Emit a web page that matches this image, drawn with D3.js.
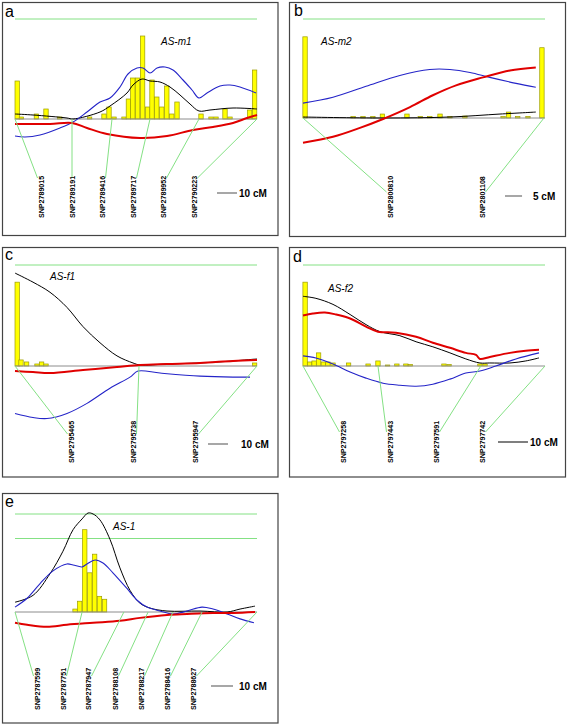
<!DOCTYPE html>
<html><head><meta charset="utf-8">
<script src="https://cdn.jsdelivr.net/npm/d3@7/dist/d3.min.js"></script>
<style>body{margin:0;background:#fff}svg{display:block}</style>
</head><body>
<svg id="chart" width="567" height="725"></svg>
<script>
// ---------------- DATA (positions in cM, scores in % of threshold) ----------------
// Panel a : AS-m1
const aSnpNames = ["SNP2789015","SNP2789191","SNP2789416","SNP2789717","SNP2789952","SNP2790223"];
const aSnpPos   = [0, 28.5, 48.5, 67.5, 92, 121];
const aBars  = [[1.1,38],[3.2,2],[10.7,5],[15.5,10],[22.4,2],[37.3,2],[44.5,5],[47,12],[49.5,2],[54.5,2],[56.7,20],[58.9,41],[61.3,41],[63.8,83],[66.3,12],[68.5,39],[70.9,22],[73.4,12],[75.9,33],[78.4,5],[81,17],[93,5],[98,2],[100.5,2],[105,10],[107.5,2],[117.3,9],[119.8,49]];
const aBlack = [[0,5],[9,4],[26,1],[29,0],[42.5,7],[47.5,13],[56,26],[59,34],[63.5,40],[67.5,38],[72.5,37],[77.5,32],[82.5,24],[87.5,15],[92,8],[97.5,9],[109,11],[121,10]];
const aBlue  = [[0,-17],[5,-18],[12.5,-16],[22.5,-9],[29,-3],[36,7],[42.5,17],[47.5,21],[52.5,32],[56.5,45],[61,51],[64,51],[67.5,46],[71,51],[75,52],[79,49],[84,39],[88.5,29],[92,21],[96,26],[102.5,33],[107.5,34],[112.5,32],[120.5,26]];
const aRed   = [[0,-5],[17.5,-5],[28.5,-4],[36,-9],[46,-15],[62.5,-19],[76,-17],[89,-11],[99,-8],[109,-4],[116,1],[121,4]];
const aThresholds = [100];

// Panel b : AS-m2
const bSnpNames = ["SNP2800810","SNP2801108"];
const bSnpPos   = [0, 70.7];
const bBars  = [[0.6,82],[14.7,1.5],[17.6,1.5],[20.5,1.5],[23.3,4],[30.5,4],[34.4,1.5],[37.2,1.5],[40.2,4],[43.1,1.5],[47.5,2],[58.7,1.5],[60.3,6],[63,1.5],[66,1.5],[70.1,71]];
const bBlack = [[0,1],[23.5,0],[43.1,1],[57.8,4],[68.3,6]];
const bBlue  = [[0,15],[8.8,21],[18.5,32],[28.4,43],[37.2,49],[43.1,49],[49,46],[54.8,41],[62.5,35],[68.3,31]];
const bRed   = [[0,-25],[8.8,-19],[16.7,-10],[23.5,-1],[31.4,11],[38.1,23],[44.9,33],[52.8,41],[60.7,48],[68.3,51]];
const bThresholds = [100];

// Panel c : AS-f1
const cSnpNames = ["SNP2795465","SNP2795738","SNP2795947"];
const cSnpPos   = [0, 62, 121];
const cBars  = [[1.1,83],[3,6],[5.8,4],[11,2],[13.3,4],[15.5,2],[119.8,3]];
const cBlack = [[0,92],[9,83],[17.5,73],[26,58],[34,39],[42.5,23],[51,10],[59,3],[62.5,1],[76,2],[92.5,3],[109,5],[121,7]];
const cBlue  = [[0,-47],[9,-51],[16,-52],[26,-47],[36,-37],[47.5,-22],[57.5,-11],[61.5,-5],[72.5,-7],[92.5,-10],[109,-11],[117.5,-11]];
const cRed   = [[0,-5],[9,-6],[17.5,-7],[34,-4],[51,-1],[62.5,1],[76,2],[92.5,3],[109,5],[121,6]];
const cThresholds = [100];

// Panel d : AS-f2
const dSnpNames = ["SNP2797258","SNP2797443","SNP2797591","SNP2797742"];
const dSnpPos   = [0, 25, 59.3, 80.7];
const dBars  = [[0.7,83],[2.2,4],[3.7,5],[5.2,13],[6.8,4],[8.3,4],[10,3],[15.2,3],[21.7,2],[25,5],[28.2,1],[31.3,2],[34.3,2],[35.8,1.5],[47,2],[48.7,1.5],[59,2],[60.7,2]];
const dBlack = [[0,69],[4.3,67],[10,61],[15.7,51],[21,41],[25.7,34],[32.3,30],[37.7,24],[43.3,19],[49,13],[54.3,7],[59,3],[62.3,3],[69,3],[74.3,5],[78.7,8]];
const dBlue  = [[0,10],[4.3,8],[10,2],[15.7,-6],[21,-12],[26.7,-17],[32.3,-19],[37.7,-20],[43.3,-18],[49,-13],[54.3,-7],[59,-5],[64.3,0],[71,7],[78.7,13]];
const dRed   = [[0,50],[3.3,52],[7.3,53],[11,51],[15.7,47],[21,39],[25,34],[31,33],[37.7,29],[43.3,23],[49,18],[54.3,13],[57.7,11],[59,7],[62.3,9],[69,13],[74.3,15],[78.7,16]];
const dThresholds = [100];

// Panel e : AS-1
const eSnpNames = ["SNP2787599","SNP2787751","SNP2787947","SNP2788108","SNP2788217","SNP2788416","SNP2788627"];
const eSnpPos   = [0, 30.5, 49.5, 60.5, 71.8, 85, 110];
const eBars  = [[27.3,3],[29.4,11],[31.7,84],[34,40],[36.2,59],[38.4,16],[40.7,13]];
const eBlack = [[0,10],[8.2,17],[15.9,39],[21.8,62],[26.4,84],[30.5,95],[33.2,101],[35.5,100],[38.6,94],[43.2,74],[47.7,45],[52.3,22],[56.8,9],[61.4,4],[69.1,1],[84.1,1],[96.4,0],[102.3,3],[109.1,6]];
const eBlue  = [[0,5],[5.5,14],[11.4,29],[17.3,42],[23.6,49],[26.4,48],[30.5,46],[32.7,49],[36.4,53],[40,50],[44.5,40],[50.9,24],[55.5,12],[60,5],[65.9,1],[71.8,-2],[78.2,1],[85,5],[90,3],[96.4,-2],[102.3,-7],[108.6,-11]];
const eRed   = [[0,-11],[5.5,-13],[14.5,-15],[23.6,-13],[35.5,-11],[47.7,-9],[56.8,-6],[69.1,-3],[78.2,-2],[90,-1],[99.1,-1],[109.1,0]];
const eThresholds = [100, 75];

const panelLetters = ["a","b","c","d","e"];
const traitNames   = ["AS-m1","AS-m2","AS-f1","AS-f2","AS-1"];
const mapLengths   = [121, 71, 121, 80.7, 110];   // cM shown
const scaleBarCM   = [10, 5, 10, 10, 10];

// ---------------- LAYOUT ----------------
const layout = [
  {box:[2.5,2.5,278,235.5], x0:15, x1:257, base:119, top:19,
   letter:[5,17], title:[161,45], labelX:[41,72,102,133,163,194], labelBottom:218, leadY:178,
   bar:[217,193], barText:[239,197]},
  {box:[289.5,2.5,565.5,236.5], x0:303, x1:545, base:118, top:19,
   letter:[294,16], title:[321,45], labelX:[390,482], labelBottom:218, leadY:192,
   bar:[505,196], barText:[533,200]},
  {box:[2.5,247.5,278,477], x0:15, x1:257, base:366, top:265,
   letter:[5,260], title:[50,280], labelX:[71,133,195], labelBottom:463, leadY:434,
   bar:[208,444], barText:[241,448]},
  {box:[289.5,247.5,565.5,477], x0:303, x1:545, base:366, top:265,
   letter:[293,262], title:[328,292], labelX:[343,390,436,482], labelBottom:463, leadY:432,
   bar:[498,442], barText:[530,446], barColor:"#555"},
  {box:[2.5,493.5,278,723], x0:15, x1:257, base:612, top:514,
   letter:[5,507], title:[113,530], labelX:[37,63,88,115,141,167,193], labelBottom:710, leadY:676,
   bar:[211,686], barText:[239,690]}
];

const panelData = [
  {names:aSnpNames,pos:aSnpPos,bars:aBars,black:aBlack,blue:aBlue,red:aRed,thr:aThresholds},
  {names:bSnpNames,pos:bSnpPos,bars:bBars,black:bBlack,blue:bBlue,red:bRed,thr:bThresholds},
  {names:cSnpNames,pos:cSnpPos,bars:cBars,black:cBlack,blue:cBlue,red:cRed,thr:cThresholds},
  {names:dSnpNames,pos:dSnpPos,bars:dBars,black:dBlack,blue:dBlue,red:dRed,thr:dThresholds},
  {names:eSnpNames,pos:eSnpPos,bars:eBars,black:eBlack,blue:eBlue,red:eRed,thr:eThresholds}
];

const svg = d3.select("#chart");
const FONT = "'Liberation Sans', Arial, sans-serif";

panelData.forEach((D, i) => {
  const L = layout[i];
  const g = svg.append("g");
  const xs = d3.scaleLinear().domain([0, mapLengths[i]]).range([L.x0, L.x1]);
  const ys = d3.scaleLinear().domain([0, 100]).range([L.base, L.top]);

  // frame
  g.append("rect").attr("x", L.box[0]).attr("y", L.box[1])
    .attr("width", L.box[2]-L.box[0]).attr("height", L.box[3]-L.box[1])
    .attr("fill", "none").attr("stroke", "#444").attr("stroke-width", 1.2);

  // panel letter
  g.append("text").attr("x", L.letter[0]).attr("y", L.letter[1])
    .attr("font-family", FONT).attr("font-size", 16).text(panelLetters[i]);

  // thresholds
  g.selectAll(".thr").data(D.thr).join("line")
    .attr("x1", xs(0)).attr("x2", xs(mapLengths[i]))
    .attr("y1", d => ys(d)).attr("y2", d => ys(d))
    .attr("stroke", "#84e184").attr("stroke-width", 1);

  // bars
  g.selectAll(".bar").data(D.bars).join("rect")
    .attr("x", d => xs(d[0]) - 2.2).attr("width", 4.4)
    .attr("y", d => ys(d[1])).attr("height", d => ys(0) - ys(d[1]))
    .attr("fill", "#ffff00").attr("stroke", "#9c9c00").attr("stroke-width", 0.7);

  // baseline
  g.append("line").attr("x1", xs(0)).attr("x2", xs(mapLengths[i]))
    .attr("y1", ys(0)).attr("y2", ys(0)).attr("stroke", "#8c8c8c").attr("stroke-width", 1);

  // curves
  const line = d3.line().x(d => xs(d[0])).y(d => ys(d[1])).curve(d3.curveCatmullRom.alpha(0.5));
  g.append("path").attr("d", line(D.black)).attr("fill", "none").attr("stroke", "#000").attr("stroke-width", 1);
  g.append("path").attr("d", line(D.blue)).attr("fill", "none").attr("stroke", "#2424c8").attr("stroke-width", 1.1);
  g.append("path").attr("d", line(D.red)).attr("fill", "none").attr("stroke", "#e00000").attr("stroke-width", 2);

  // title
  g.append("text").attr("x", L.title[0]).attr("y", L.title[1])
    .attr("font-family", FONT).attr("font-size", 10).attr("font-style", "italic")
    .text(traitNames[i]);

  // SNP leaders & labels
  D.names.forEach((nm, k) => {
    const sx = xs(D.pos[k]);
    const lx = L.labelX[k];
    const dx = sx - lx;
    const ex = lx + (Math.abs(dx) < 3 ? 0 : Math.sign(dx) * 3.5);
    g.append("line").attr("x1", sx).attr("y1", ys(0)).attr("x2", ex).attr("y2", L.leadY)
      .attr("stroke", "#84e184").attr("stroke-width", 1);
    g.append("text")
      .attr("transform", `translate(${lx},${L.labelBottom}) rotate(-90)`)
      .attr("dy", "0.35em").attr("text-anchor", "start")
      .attr("font-family", FONT).attr("font-size", 7.1).attr("font-weight", "bold")
      .text(nm);
  });

  // scale bar
  const len = xs(scaleBarCM[i]) - xs(0);
  g.append("line").attr("x1", L.bar[0]).attr("x2", L.bar[0] + len)
    .attr("y1", L.bar[1]).attr("y2", L.bar[1])
    .attr("stroke", L.barColor || "#8a8a8a").attr("stroke-width", 1.5);
  g.append("text").attr("x", L.barText[0]).attr("y", L.barText[1])
    .attr("font-family", FONT).attr("font-size", 10).attr("font-weight", "bold")
    .text(scaleBarCM[i] + " cM");
});
</script>
</body></html>
